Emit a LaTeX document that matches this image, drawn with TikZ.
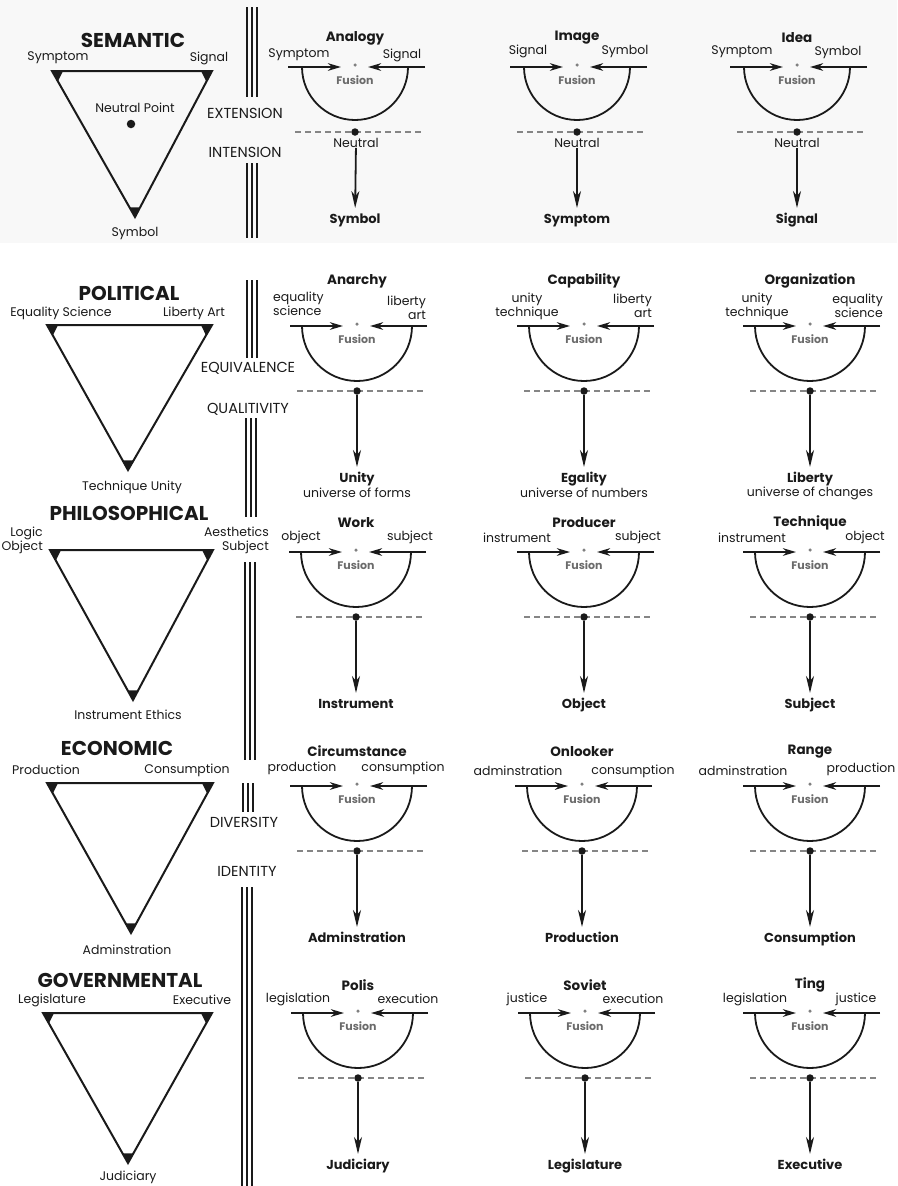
\documentclass[tikz,border=0pt]{standalone}
\usepackage{fontspec}
\setmainfont{Poppins}
\usetikzlibrary{calc,arrows.meta}
\newcommand\fsz[1]{\fontsize{#1}{#1}\selectfont}
\definecolor{ink}{HTML}{1A1A1A}
\definecolor{band}{HTML}{F8F8F8}
\tikzset{
  lbl/.style={font=\fsz{12.5}, inner sep=0pt, text=ink},
  lbltwo/.style={font=\fontsize{12.5}{14}\selectfont, inner sep=0pt, text=ink},
  ttl/.style={font=\bfseries\fsz{20}, inner sep=0pt, text=ink},
  cttl/.style={font=\bfseries\fsz{13.5}, inner sep=0pt, text=ink},
  btm/.style={font=\bfseries\fsz{13}, inner sep=0pt, text=ink, text height=9.5pt, text depth=3pt, outer ysep=6pt, anchor=north},
  axislbl/.style={font=\fsz{14.5}, inner sep=0pt, text=ink},
  fus/.style={font=\bfseries\fsz{11}, text=black!58, inner sep=0pt},
  triline/.style={line width=2pt, line join=miter, draw=ink},
  inarrow/.style={line width=2.3pt, draw=ink, -{Stealth[length=13pt,width=7.5pt,inset=4pt]}},
  downarrow/.style={line width=1.8pt, draw=ink, -{Stealth[length=17pt,width=8pt,inset=5pt]}},
  bowl/.style={line width=1.8pt, draw=ink},
  dashln/.style={line width=1.8pt, draw=black!48, dash pattern=on 6pt off 4pt},
  bdot/.style={circle, fill=ink, inner sep=0pt, minimum size=7.5pt},
  sdot/.style={circle, fill=black!50, inner sep=0pt, minimum size=3.5pt},
  vline/.style={line width=2pt, draw=ink},
}
% #1 id, #2 C, #3 H, #4 radius, #5 title dy, #6 title, #7 bottom label
\newcommand\fusionunit[7]{%
  \node[cttl] (#1-t) at ({#2},{#3+#5}) {#6};
  \coordinate (#1-l0) at ({#2-67},{#3});
  \coordinate (#1-l1) at ({#2-14},{#3});
  \coordinate (#1-r0) at ({#2+70},{#3});
  \coordinate (#1-r1) at ({#2+13},{#3});
  \draw[inarrow] (#1-l0) -- (#1-l1);
  \draw[inarrow] (#1-r0) -- (#1-r1);
  \node[sdot] (#1-f) at ({#2},{#3-2}) {};
  \node[fus] (#1-fl) at ({#2},{#3+13}) {Fusion};
  \coordinate (#1-a0) at ({#2-#4},{#3});
  \draw[bowl] (#1-a0) arc[start angle=180, end angle=360, radius=#4pt];
  \coordinate (#1-d0) at ({#2-60},{#3+65});
  \coordinate (#1-d1) at ({#2+67},{#3+65});
  \draw[dashln] (#1-d0) -- (#1-d1);
  \node[bdot] (#1-n) at ({#2},{#3+65}) {};
  \node[btm] (#1-b) at ({#2},{#3+141}) {#7};
}
% triangle: id, top-left, top-right, bottom
\newcommand\tri[7]{%
  \coordinate (#1-a) at (#2,#3);
  \coordinate (#1-b) at (#4,#5);
  \coordinate (#1-c) at (#6,#7);
  \draw[triline] (#1-a) -- (#1-b) -- (#1-c) -- cycle;
  \fill[ink] (#1-a) -- ($(#1-a)!11pt!(#1-b)$) -- ($(#1-a)!12pt!(#1-c)$) -- cycle;
  \fill[ink] (#1-b) -- ($(#1-b)!11pt!(#1-a)$) -- ($(#1-b)!12pt!(#1-c)$) -- cycle;
  \fill[ink] (#1-c) -- ($(#1-c)!11pt!(#1-a)$) -- ($(#1-c)!11pt!(#1-b)$) -- cycle;
}
% triple vertical rule: id, x centre, y top, y bottom
\newcommand\vtriple[4]{%
  \coordinate (#1-t) at (#2,#3);
  \coordinate (#1-b) at (#2,#4);
  \draw[vline] ([xshift=-5pt]#1-t) -- ([xshift=-5pt]#1-b);
  \draw[vline] (#1-t) -- (#1-b);
  \draw[vline] ([xshift=5pt]#1-t) -- ([xshift=5pt]#1-b);
}
\begin{document}
\begin{tikzpicture}[x=1pt, y=-1pt]
\useasboundingbox (0,0) rectangle (897,1186);
\fill[band] (0,0) rectangle (897,243);

% ---------- vertical rules and their labels ----------
\vtriple{v1}{251.5}{7}{97}
\vtriple{v2}{251.5}{163}{238}
\vtriple{v3}{251.5}{280}{358}
\vtriple{v4}{250.5}{418}{517}
\vtriple{v5}{249.5}{562}{760}
\vtriple{v6}{248}{783}{812}
\vtriple{v7}{247}{887}{1186}
\node[axislbl] (ext) at (245,113) {EXTENSION};
\node[axislbl] (int) at (245,152) {INTENSION};
\node[axislbl] (equ) at (248,368) {EQUIVALENCE};
\node[axislbl] (qua) at (248,409) {QUALITIVITY};
\node[axislbl] (div) at (244,822) {DIVERSITY};
\node[axislbl] (idn) at (247,871) {IDENTITY};

% ---------- SEMANTIC ----------
\node[ttl] (semT) at (133,40) {SEMANTIC};
\tri{t1}{52}{71}{212}{71}{135}{217}
\node[lbl] (t1-la) at (58,58) {Symptom};
\node[lbl] (t1-lb) at (209,58) {Signal};
\node[lbl] (t1-np) at (135,108) {Neutral Point};
\node[circle, fill=ink, inner sep=0pt, minimum size=8.5pt] (t1-dot) at (131,124) {};
\node[lbl] (t1-lc) at (135,233) {Symbol};

\fusionunit{a1}{355}{67}{53}{-29}{Analogy}{Symbol}
\node[lbl] (a1-L) at (299,55) {Symptom};
\node[lbl] (a1-R) at (402,55) {Signal};
\node[lbl] (a1-neu) at (356,143) {Neutral};
\draw[downarrow] (a1-neu) -- (a1-b);

\fusionunit{a2}{577}{67}{53}{-29}{Image}{Symptom}
\node[lbl] (a2-L) at (528,51) {Signal};
\node[lbl] (a2-R) at (625,51) {Symbol};
\node[lbl] (a2-neu) at (577,143) {Neutral};
\draw[downarrow] (a2-neu) -- (a2-b);

\fusionunit{a3}{797}{67}{53}{-29}{Idea}{Signal}
\node[lbl] (a3-L) at (742,52) {Symptom};
\node[lbl] (a3-R) at (838,52) {Symbol};
\node[lbl] (a3-neu) at (797,143) {Neutral};
\draw[downarrow] (a3-neu) -- (a3-b);

% ---------- POLITICAL ----------
\node[ttl] (polT) at (129,293) {POLITICAL};
\tri{t2}{47}{325}{212}{325}{128}{470}
\node[lbl] (t2-la) at (61,313) {Equality Science};
\node[lbl] (t2-lb) at (194,313) {Liberty Art};
\node[lbl] (t2-lc) at (132,487) {Technique Unity};

\fusionunit{b1}{357}{326}{55}{-45}{Anarchy}{Unity}
\node[lbltwo, align=left, anchor=west] (b1-L) at (273,304) {equality\\science};
\node[lbltwo, align=right, anchor=east] (b1-R) at (426,308) {liberty\\art};
\node[lbl] (b1-u) at (357,493) {universe of forms};
\draw[downarrow] (b1-n) -- (b1-b);

\fusionunit{b2}{584}{326}{55}{-45}{Capability}{Egality}
\node[lbltwo, align=center] (b2-L) at (527,306) {unity\\technique};
\node[lbltwo, align=right, anchor=east] (b2-R) at (652,306) {liberty\\art};
\node[lbl] (b2-u) at (584,493) {universe of numbers};
\draw[downarrow] (b2-n) -- (b2-b);

\fusionunit{b3}{810}{326}{55}{-45}{Organization}{Liberty}
\node[lbltwo, align=center] (b3-L) at (757,306) {unity\\technique};
\node[lbltwo, align=right, anchor=east] (b3-R) at (883,306) {equality\\science};
\node[lbl] (b3-u) at (810,493) {universe of changes};
\draw[downarrow] (b3-n) -- (b3-b);

% ---------- PHILOSOPHICAL ----------
\node[ttl] (phiT) at (129,513) {PHILOSOPHICAL};
\tri{t3}{50}{550}{213}{550}{133}{700}
\node[lbltwo, align=right, anchor=east] (t3-la) at (43,540) {Logic\\Object};
\node[lbltwo, align=right, anchor=east] (t3-lb) at (269,540) {Aesthetics\\Subject};
\node[lbl] (t3-lc) at (128,715) {Instrument Ethics};

\fusionunit{c1}{356}{552}{55}{-29}{Work}{Instrument}
\node[lbl] (c1-L) at (301,537) {object};
\node[lbl] (c1-R) at (410,537) {subject};
\draw[downarrow] (c1-n) -- (c1-b);

\fusionunit{c2}{584}{552}{55}{-29}{Producer}{Object}
\node[lbl] (c2-L) at (517,538) {instrument};
\node[lbl] (c2-R) at (638,537) {subject};
\draw[downarrow] (c2-n) -- (c2-b);

\fusionunit{c3}{810}{552}{55}{-29}{Technique}{Subject}
\node[lbl] (c3-L) at (752,538) {instrument};
\node[lbl] (c3-R) at (865,537) {object};
\draw[downarrow] (c3-n) -- (c3-b);

% ---------- ECONOMIC ----------
\node[ttl] (ecoT) at (117,748) {ECONOMIC};
\tri{t4}{47}{783}{213}{783}{131}{933}
\node[lbl] (t4-la) at (46,770) {Production};
\node[lbl] (t4-lb) at (187,770) {Consumption};
\node[lbl] (t4-lc) at (127,950) {Adminstration};

\fusionunit{d1}{357}{786}{55}{-35}{Circumstance}{Adminstration}
\node[lbl] (d1-L) at (302,768) {production};
\node[lbl] (d1-R) at (403,768) {consumption};
\draw[downarrow] (d1-n) -- (d1-b);

\fusionunit{d2}{582}{786}{55}{-34}{Onlooker}{Production}
\node[lbl] (d2-L) at (518,771) {adminstration};
\node[lbl] (d2-R) at (633,771) {consumption};
\draw[downarrow] (d2-n) -- (d2-b);

\fusionunit{d3}{810}{786}{55}{-34}{Range}{Consumption}
\node[lbl] (d3-L) at (743,771) {adminstration};
\node[lbl] (d3-R) at (861,769) {production};
\draw[downarrow] (d3-n) -- (d3-b);

% ---------- GOVERNMENTAL ----------
\node[ttl] (govT) at (120,980) {GOVERNMENTAL};
\tri{t5}{43}{1013}{212}{1013}{128}{1163}
\node[lbl] (t5-la) at (52,1000) {Legislature};
\node[lbl] (t5-lb) at (202,1000) {Executive};
\node[lbl] (t5-lc) at (128,1177) {Judiciary};

\fusionunit{e1}{358}{1013}{55}{-28}{Polis}{Judiciary}
\node[lbl] (e1-L) at (298,999) {legislation};
\node[lbl] (e1-R) at (408,999) {execution};
\draw[downarrow] (e1-n) -- (e1-b);

\fusionunit{e2}{585}{1013}{55}{-28}{Soviet}{Legislature}
\node[lbl] (e2-L) at (527,999) {justice};
\node[lbl] (e2-R) at (633,999) {execution};
\draw[downarrow] (e2-n) -- (e2-b);

\fusionunit{e3}{810}{1013}{55}{-28}{Ting}{Executive}
\node[lbl] (e3-L) at (755,999) {legislation};
\node[lbl] (e3-R) at (856,999) {justice};
\draw[downarrow] (e3-n) -- (e3-b);
\end{tikzpicture}
\end{document}
